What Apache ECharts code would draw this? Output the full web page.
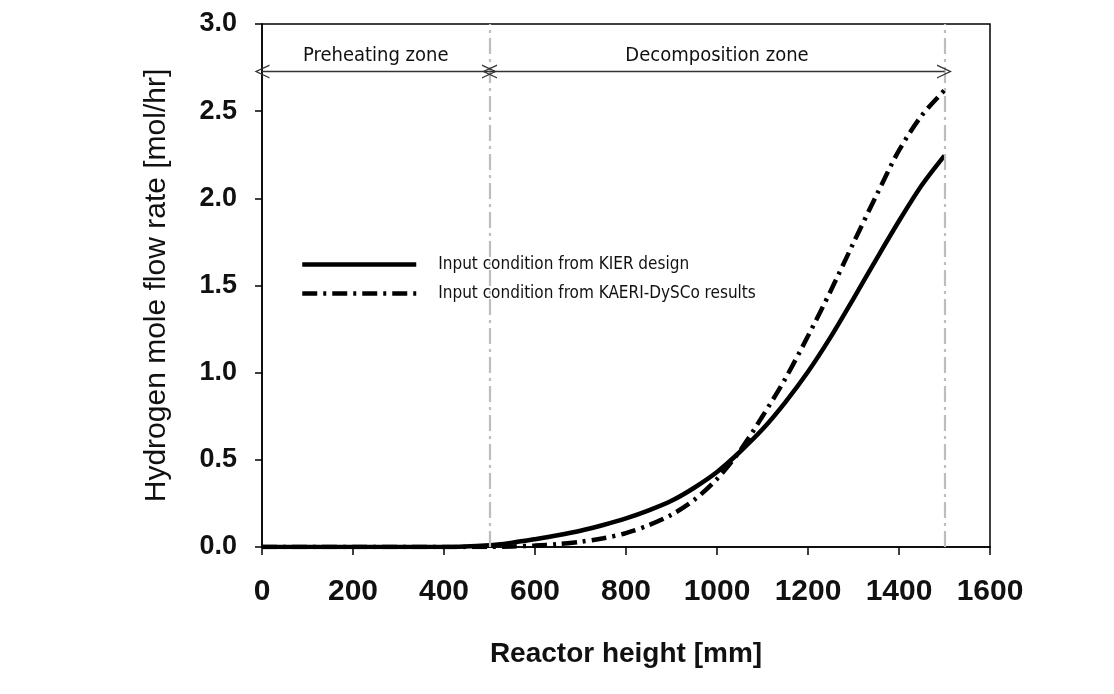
<!DOCTYPE html>
<html>
<head>
<meta charset="utf-8">
<script src="https://cdn.jsdelivr.net/npm/echarts@6/dist/echarts.min.js"></script>
<style>html,body{margin:0;padding:0;background:#fff;}#c{width:1114px;height:694px;}</style>
</head>
<body>
<div id="c"></div>
<script>
// Reactor height [mm]
const heights = [0, 100, 200, 300, 400, 500, 550, 600, 650, 700, 750, 800, 850, 900, 950, 1000, 1050, 1100, 1150, 1200, 1250, 1300, 1350, 1400, 1450, 1500];
// Input condition from KIER design
const kier = [0, 0, 0, 0, 0, 0.01, 0.025, 0.045, 0.067, 0.093, 0.126, 0.164, 0.21, 0.265, 0.34, 0.43, 0.545, 0.675, 0.83, 1.005, 1.205, 1.425, 1.65, 1.87, 2.075, 2.245];
// Input condition from KAERI-DySCo results
const kaeri = [0, 0, 0, 0, 0, 0, 0.003, 0.008, 0.017, 0.03, 0.05, 0.08, 0.125, 0.185, 0.27, 0.39, 0.55, 0.75, 0.965, 1.21, 1.47, 1.745, 2.015, 2.275, 2.475, 2.62];
const seriesNames = ['Input condition from KIER design', 'Input condition from KAERI-DySCo results'];
const zoneBounds = [0, 500, 1500];
const zoneNames = ['Preheating zone', 'Decomposition zone'];
const zoneArrowY = 2.727;
const xTicks = [0, 200, 400, 600, 800, 1000, 1200, 1400, 1600];
const yTicks = [0.0, 0.5, 1.0, 1.5, 2.0, 2.5, 3.0];

const narrow = '"Liberation Sans Narrow", "DejaVu Sans Condensed", sans-serif';
const sans = '"Liberation Sans", Arial, sans-serif';
const chevron = 'path://M0,10 L5,0 L10,10 L9,10 L5,2 L1,10 Z';

const chart = echarts.init(document.getElementById('c'), null, {renderer: 'canvas'});
chart.setOption({
  backgroundColor: '#fff',
  animation: false,
  grid: {left: 262, right: 124, top: 24, bottom: 147, show: true, borderColor: '#000', borderWidth: 1.5, backgroundColor: 'transparent'},
  legend: {
    orient: 'vertical', left: 295, top: 251, itemWidth: 114, itemHeight: 14, itemGap: 12,
    data: seriesNames,
    itemStyle: {opacity: 0},
    lineStyle: {width: 4.5},
    textStyle: {fontFamily: narrow, fontSize: 17, color: '#111', padding: [0, 0, 0, 17]}
  },
  xAxis: {
    type: 'value', min: xTicks[0], max: xTicks[xTicks.length - 1], interval: 200,
    name: 'Reactor height [mm]', nameLocation: 'middle', nameGap: 93,
    nameTextStyle: {fontFamily: sans, fontSize: 28, fontWeight: 'bold', color: '#111'},
    axisLine: {lineStyle: {color: '#000', width: 1.5}},
    axisTick: {show: true, inside: false, length: 8, lineStyle: {color: '#000', width: 1.5}},
    axisLabel: {fontFamily: sans, fontSize: 30, fontWeight: 'bold', color: '#111', margin: 30, formatter: v => String(v)},
    splitLine: {show: false}
  },
  yAxis: {
    type: 'value', min: yTicks[0], max: yTicks[yTicks.length - 1], interval: 0.5,
    name: 'Hydrogen mole flow rate [mol/hr]', nameLocation: 'middle', nameGap: 90,
    nameTextStyle: {fontFamily: sans, fontSize: 30, color: '#111'},
    axisLine: {lineStyle: {color: '#000', width: 1.5}},
    axisTick: {show: true, inside: false, length: 7, lineStyle: {color: '#000', width: 1.5}},
    axisLabel: {fontFamily: sans, fontSize: 27, fontWeight: 'bold', color: '#111', margin: 25,
      formatter: v => v.toFixed(1)},
    splitLine: {show: false}
  },
  series: [
    {
      name: seriesNames[0], type: 'line', smooth: 0.3, showSymbol: false, symbol: 'none',
      data: heights.map((h, i) => [h, kier[i]]),
      lineStyle: {color: '#000', width: 4.5},
      itemStyle: {color: '#000'},
      z: 3,
      markLine: {
        silent: true, symbol: ['none', 'none'], animation: false,
        lineStyle: {color: '#bdbdbd', width: 2.2, type: [16, 5, 3, 5]},
        label: {show: false},
        data: [{xAxis: zoneBounds[1]}, {xAxis: zoneBounds[2]}]
      }
    },
    {
      name: seriesNames[1], type: 'line', smooth: 0.3, showSymbol: false, symbol: 'none',
      data: heights.map((h, i) => [h, kaeri[i]]),
      lineStyle: {color: '#000', width: 4.5, type: [15, 6, 3, 6]},
      itemStyle: {color: '#000'},
      z: 4,
      markLine: {
        silent: true, animation: false,
        symbol: [chevron, chevron], symbolSize: [14, 15],
        lineStyle: {color: '#333', width: 1.3, type: 'solid'},
        label: {show: true, position: 'insideMiddleTop', distance: 6, fontFamily: narrow, fontSize: 20, color: '#111',
          formatter: p => p.name},
        data: [
          [{name: zoneNames[0], coord: [zoneBounds[0], zoneArrowY]}, {coord: [zoneBounds[1], zoneArrowY]}],
          [{name: zoneNames[1], coord: [zoneBounds[1], zoneArrowY]}, {coord: [zoneBounds[2], zoneArrowY]}]
        ]
      }
    }
  ]
});
</script>
</body>
</html>
